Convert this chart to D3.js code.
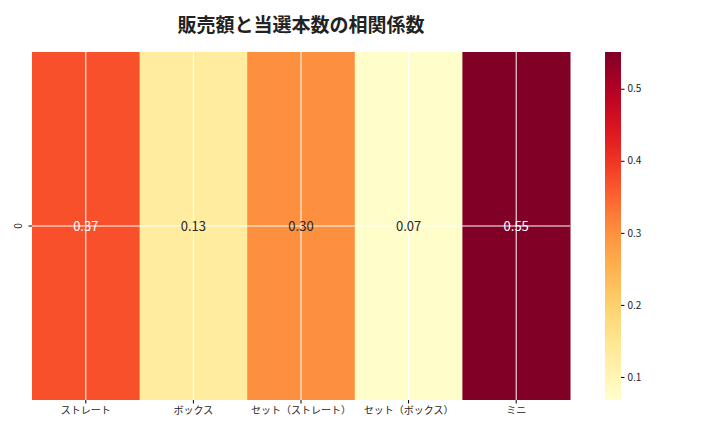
<!DOCTYPE html>
<html><head><meta charset="utf-8">
<script src="https://cdn.jsdelivr.net/npm/d3@7"></script>
<style>body{margin:0;background:#fff}text{font-family:"Noto Sans CJK JP","Noto Sans",sans-serif}</style>
</head><body><svg id="c" width="720" height="432"></svg>
<script>
const categories=["ストレート","ボックス","セット（ストレート）","セット（ボックス）","ミニ"];
const values=[0.37,0.13,0.30,0.07,0.55];
const rowLabels=["0"];
const cbTicks=[0.1,0.2,0.3,0.4,0.5];
const title="販売額と当選本数の相関係数";

const svg=d3.select("#c");
const L=32,R=570,T=52,B=400;
const vmin=0.068,vmax=0.551;
const color=d3.scaleSequential(d3.interpolateYlOrRd).domain([vmin,vmax]);
const x=d3.scaleBand().domain(categories).range([L,R]);
const y=d3.scaleBand().domain(rowLabels).range([T,B]);

svg.append("text").attr("x",301).attr("y",32).attr("text-anchor","middle")
 .attr("font-size",19).attr("font-weight","bold").attr("fill","#222").text(title);

svg.selectAll("rect.c").data(values).join("rect").attr("class","c")
 .attr("x",(d,i)=>x(categories[i])).attr("y",y("0"))
 .attr("width",x.bandwidth()+0.5).attr("height",y.bandwidth()).attr("fill",d=>color(d));

// grid lines
categories.forEach(c=>{const cx=x(c)+x.bandwidth()/2;
 svg.append("line").attr("x1",cx).attr("x2",cx).attr("y1",T).attr("y2",B).attr("stroke","#fff").attr("stroke-width",1);});
svg.append("line").attr("x1",L).attr("x2",R).attr("y1",y("0")+y.bandwidth()/2).attr("y2",y("0")+y.bandwidth()/2).attr("stroke","#fff");

svg.selectAll("text.v").data(values).join("text").attr("class","v")
 .attr("x",(d,i)=>x(categories[i])+x.bandwidth()/2).attr("y",y("0")+y.bandwidth()/2+5)
 .attr("text-anchor","middle").attr("font-size",13)
 .attr("fill",d=>d>0.33?"#fff":"#262626").text(d=>d.toFixed(2));

const xa=svg.append("g").attr("transform",`translate(0,${B})`).call(d3.axisBottom(x).tickSize(3.5));
xa.select(".domain").remove();
xa.selectAll("text").attr("font-size",10).attr("fill","#222");
const ya=svg.append("g").attr("transform",`translate(${L},0)`).call(d3.axisLeft(y).tickSize(3.5));
ya.select(".domain").remove();
ya.selectAll("text").attr("font-size",10).attr("fill","#222").attr("transform","rotate(-90)")
 .attr("x",0).attr("y",-14).attr("dy","0.35em").attr("text-anchor","middle")
 .attr("transform",null).each(function(){const t=d3.select(this);t.attr("transform",`translate(-14,0) rotate(-90)`).attr("x",0).attr("y",0);});

// colorbar
const cx0=605,cw=16;
const cy=d3.scaleLinear().domain([vmin,vmax]).range([B,T]);
const defs=svg.append("defs");
const g=defs.append("linearGradient").attr("id","g").attr("x1",0).attr("x2",0).attr("y1",1).attr("y2",0);
d3.range(0,1.001,0.05).forEach(t=>g.append("stop").attr("offset",t).attr("stop-color",color(vmin+t*(vmax-vmin))));
svg.append("rect").attr("x",cx0).attr("y",T).attr("width",cw).attr("height",B-T).attr("fill","url(#g)");
const ca=svg.append("g").attr("transform",`translate(${cx0+cw},0)`).call(d3.axisRight(cy).tickValues(cbTicks).tickFormat(d3.format(".1f")).tickSize(3.5));
ca.select(".domain").remove();
ca.selectAll("text").attr("font-size",10).attr("fill","#222");
</script></body></html>
